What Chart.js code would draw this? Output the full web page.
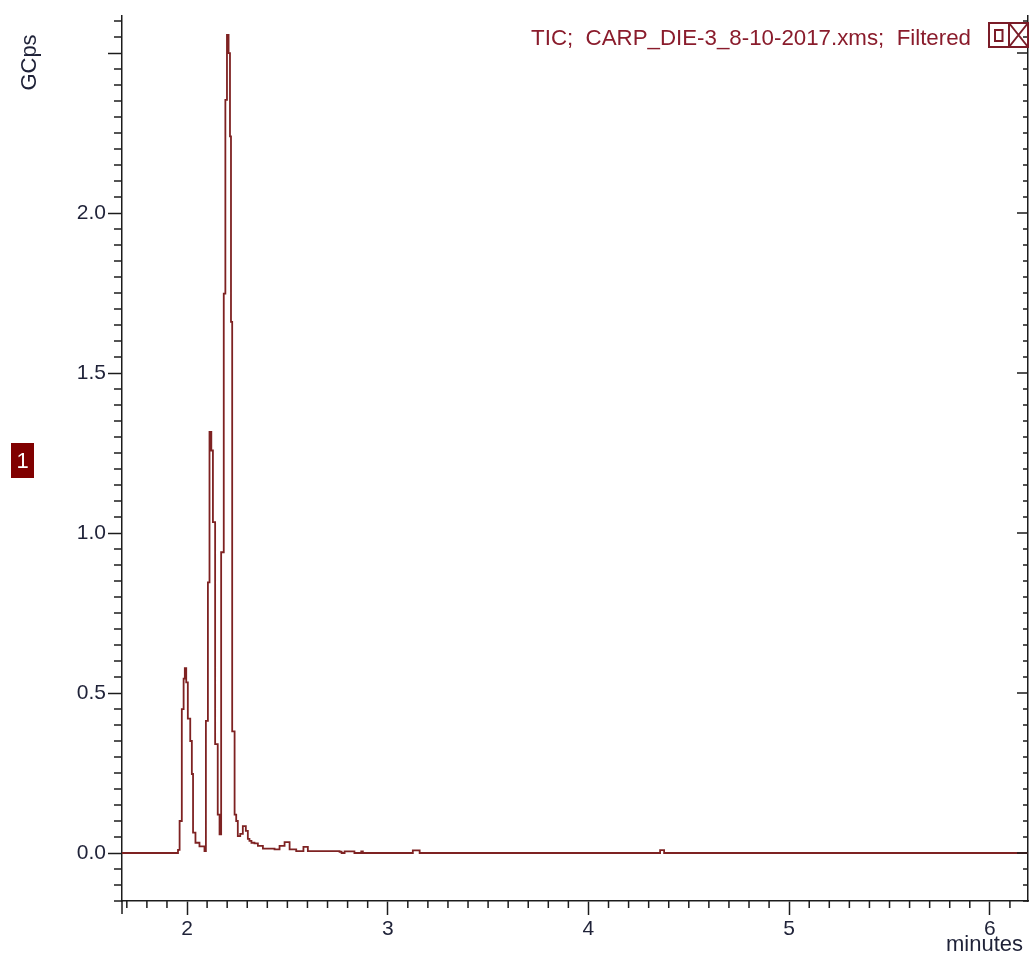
<!DOCTYPE html>
<html>
<head>
<meta charset="utf-8">
<title>TIC chromatogram</title>
<script src="https://cdn.jsdelivr.net/npm/chart.js@4.4.1/dist/chart.umd.min.js"></script>
<style>
  html, body { margin: 0; padding: 0; background: #ffffff; overflow: hidden; }
  #wrap { position: relative; width: 1031px; height: 954px; }
</style>
</head>
<body>
<div id="wrap"><canvas id="c" width="1031" height="954"></canvas></div>
<script>
// Total ion current trace: retention time (minutes) and signal (GCps)
const retentionMin = [
  1.676, 1.949, 1.955, 1.963, 1.974, 1.983, 1.989, 1.996, 2.004, 2.016,
  2.024, 2.030, 2.042, 2.062, 2.087, 2.094, 2.104, 2.112, 2.121, 2.129,
  2.140, 2.153, 2.162, 2.170, 2.183, 2.191, 2.199, 2.207, 2.214, 2.219,
  2.225, 2.237, 2.245, 2.253, 2.265, 2.278, 2.293, 2.303, 2.311, 2.321,
  2.336, 2.353, 2.378, 2.436, 2.461, 2.486, 2.511, 2.544, 2.566, 2.580,
  2.602, 2.760, 2.770, 2.785, 2.826, 2.834, 2.859, 2.868, 2.876, 3.117,
  3.125, 3.150, 3.159, 4.350, 4.357, 4.370, 4.377, 6.190
];
const ticSignal = [
  0, 0, 0.010, 0.100, 0.450, 0.545, 0.578, 0.533, 0.420, 0.350,
  0.247, 0.064, 0.032, 0.021, 0.006, 0.413, 0.846, 1.316, 1.258, 1.034,
  0.340, 0.120, 0.058, 0.940, 1.748, 2.354, 2.557, 2.500, 2.240, 1.660,
  0.380, 0.120, 0.100, 0.053, 0.060, 0.084, 0.069, 0.044, 0.038, 0.032,
  0.030, 0.022, 0.0135, 0.0115, 0.022, 0.034, 0.0115, 0.006, 0.006, 0.019,
  0.006, 0.004, 0, 0.005, 0.005, 0, 0, 0.005, 0, 0,
  0.008, 0.008, 0, 0, 0.009, 0.009, 0, 0
];

// Axis ticks
const xMajorTicks = [2, 3, 4, 5, 6];
const xTickLabels = ['2', '3', '4', '5', '6'];
const yMajorTicks = [0, 0.5, 1.0, 1.5, 2.0, 2.5];
const yLabelValues = [0, 0.5, 1.0, 1.5, 2.0];
const yTickLabels = ['0.0', '0.5', '1.0', '1.5', '2.0'];

const traceTitle = 'TIC;  CARP_DIE-3_8-10-2017.xms;  Filtered';
const xTitle = 'minutes';
const yTitle = 'GCps';
const traceNumber = '1';

const X_MIN = 1.676, X_MAX = 6.19, Y_MIN = -0.15, Y_MAX = 2.616;
const ink = '#1c1c1c';
const labelInk = '#1f2238';
const traceRed = '#7e2222';
const titleRed = '#8a1c2c';
const FONT = '"Liberation Sans", Arial, Helvetica, sans-serif';

const near = (a, b) => Math.abs(a - b) < 1e-6;
const isMajorX = v => xMajorTicks.some(m => near(m, v));
const isMajorY = v => yMajorTicks.some(m => near(m, v));

function stepTicks(min, max, step) {
  const out = [];
  const n0 = Math.ceil(min / step - 1e-9), n1 = Math.floor(max / step + 1e-9);
  for (let n = n0; n <= n1; n++) out.push({ value: +(n * step).toFixed(4) });
  return out;
}

// Minor ticks, right-hand ticks and the text furniture around the plot
const decor = {
  id: 'decor',
  afterDraw(chart) {
    const { ctx, chartArea: a, scales: { x, y } } = chart;
    ctx.save();
    ctx.strokeStyle = ink;
    ctx.lineWidth = 1.5;
    ctx.beginPath();
    x.ticks.forEach(t => {
      if (isMajorX(t.value)) return;
      const px = x.getPixelForValue(t.value);
      ctx.moveTo(px, a.bottom);
      ctx.lineTo(px, a.bottom + 7);
    });
    // left axis continues a little below the time axis
    ctx.moveTo(a.left, a.bottom);
    ctx.lineTo(a.left, a.bottom + 13);
    y.ticks.forEach(t => {
      const py = y.getPixelForValue(t.value);
      const maj = isMajorY(t.value);
      if (!maj) {
        ctx.moveTo(a.left - 8, py);
        ctx.lineTo(a.left, py);
      }
      ctx.moveTo(a.right - (maj ? 11 : 5), py);
      ctx.lineTo(a.right, py);
    });
    ctx.stroke();

    // axis titles
    ctx.fillStyle = labelInk;
    ctx.font = '22px ' + FONT;
    ctx.textAlign = 'right';
    ctx.textBaseline = 'alphabetic';
    ctx.fillText(xTitle, 1023, 951);

    ctx.save();
    ctx.translate(36, 62.5);
    ctx.rotate(-Math.PI / 2);
    ctx.textAlign = 'center';
    ctx.fillText(yTitle, 0, 0);
    ctx.restore();

    // trace caption
    ctx.fillStyle = titleRed;
    ctx.font = '22.3px ' + FONT;
    ctx.textAlign = 'right';
    ctx.fillText(traceTitle, 971, 45);

    // caption buttons
    ctx.strokeStyle = '#7a1c28';
    ctx.lineWidth = 2;
    ctx.strokeRect(989, 23, 39, 24);
    ctx.beginPath();
    ctx.moveTo(1009, 23); ctx.lineTo(1009, 47);
    ctx.moveTo(1009, 23); ctx.lineTo(1028, 47);
    ctx.moveTo(1009, 47); ctx.lineTo(1028, 23);
    ctx.stroke();
    ctx.strokeRect(995, 30, 7.5, 11);

    // trace number badge
    ctx.fillStyle = '#800000';
    ctx.fillRect(11, 443, 23, 35);
    ctx.fillStyle = '#ffffff';
    ctx.font = '22px ' + FONT;
    ctx.textAlign = 'center';
    ctx.fillText(traceNumber, 22.5, 468);
    ctx.restore();
  }
};

new Chart(document.getElementById('c'), {
  type: 'scatter',
  data: {
    datasets: [{
      data: retentionMin.map((t, i) => ({ x: t, y: ticSignal[i] })),
      showLine: true,
      stepped: true,
      borderColor: traceRed,
      borderWidth: 1.8,
      pointRadius: 0,
      fill: false
    }]
  },
  options: {
    responsive: false,
    animation: false,
    devicePixelRatio: 1,
    layout: { padding: { top: 16, left: 0, right: 0, bottom: 0 } },
    plugins: { legend: { display: false }, tooltip: { enabled: false } },
    scales: {
      x: {
        type: 'linear',
        position: 'bottom',
        min: X_MIN,
        max: X_MAX,
        afterBuildTicks: s => { s.ticks = stepTicks(X_MIN, X_MAX, 0.1); },
        afterFit: s => { s.height = 53; },
        border: { display: true, color: ink, width: 1.5 },
        grid: {
          drawOnChartArea: false,
          tickLength: 14,
          tickWidth: 1.5,
          tickColor: c => (c.tick && isMajorX(c.tick.value)) ? ink : 'rgba(0,0,0,0)'
        },
        ticks: {
          autoSkip: false,
          maxRotation: 0,
          minRotation: 0,
          padding: 2,
          color: labelInk,
          font: { family: FONT, size: 21 },
          callback: v => {
            const i = xMajorTicks.findIndex(m => near(m, v));
            return i >= 0 ? xTickLabels[i] : '';
          }
        }
      },
      y: {
        type: 'linear',
        position: 'left',
        min: Y_MIN,
        max: Y_MAX,
        afterBuildTicks: s => { s.ticks = stepTicks(Y_MIN, Y_MAX, 0.05); },
        afterFit: s => { s.width = 122; },
        border: { display: true, color: ink, width: 1.5 },
        grid: {
          drawOnChartArea: false,
          tickLength: 14,
          tickWidth: 1.5,
          tickColor: c => (c.tick && isMajorY(c.tick.value)) ? ink : 'rgba(0,0,0,0)'
        },
        ticks: {
          autoSkip: false,
          padding: 2,
          color: labelInk,
          font: { family: FONT, size: 21 },
          callback: v => {
            const i = yLabelValues.findIndex(m => near(m, v));
            return i >= 0 ? yTickLabels[i] : '';
          }
        }
      },
      y2: {
        type: 'linear',
        position: 'right',
        min: Y_MIN,
        max: Y_MAX,
        afterFit: s => { s.width = 3; },
        border: { display: true, color: ink, width: 1.5 },
        grid: { drawOnChartArea: false, drawTicks: false },
        ticks: { display: false }
      }
    }
  },
  plugins: [decor]
});
</script>
</body>
</html>
